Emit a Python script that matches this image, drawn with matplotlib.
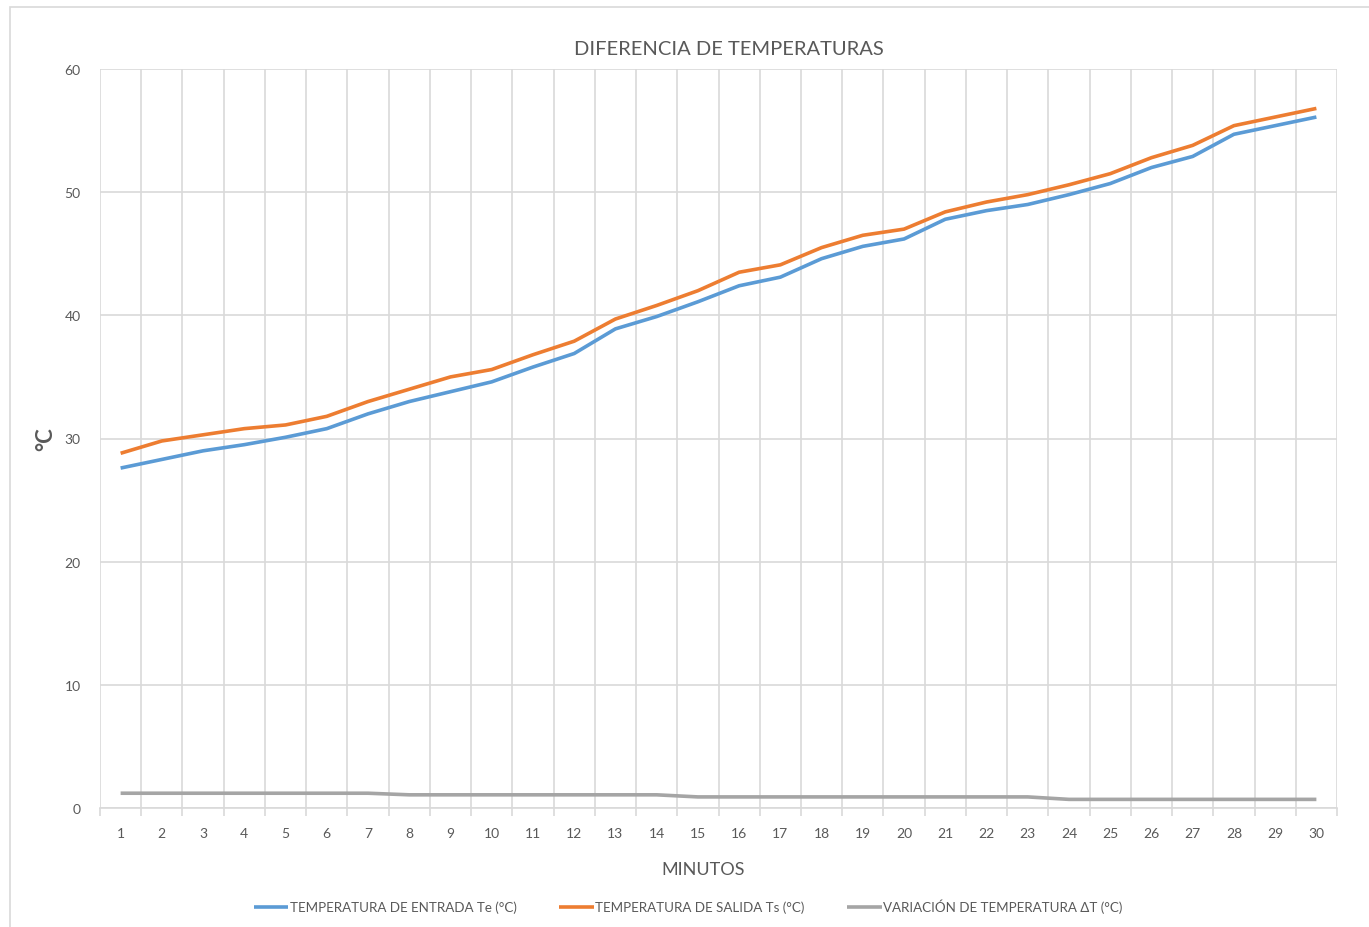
import numpy as np
import matplotlib
matplotlib.use("Agg")
import matplotlib.pyplot as plt
from matplotlib.patches import Rectangle

plt.rcParams['font.family'] = ['Lato', 'DejaVu Sans']

# datos
minutos = list(range(1, 31))
t_entrada = [27.6, 28.3, 29.0, 29.5, 30.1, 30.8, 32.0, 33.0, 33.8, 34.6,
             35.8, 36.9, 38.9, 39.9, 41.1, 42.4, 43.1, 44.6, 45.6, 46.2,
             47.8, 48.5, 49.0, 49.8, 50.7, 52.0, 52.9, 54.7, 55.4, 56.1]
t_salida = [28.8, 29.8, 30.3, 30.8, 31.1, 31.8, 33.0, 34.0, 35.0, 35.6,
            36.8, 37.9, 39.7, 40.8, 42.0, 43.5, 44.1, 45.5, 46.5, 47.0,
            48.4, 49.2, 49.8, 50.6, 51.5, 52.8, 53.8, 55.4, 56.1, 56.8]
delta_t = [1.2, 1.2, 1.2, 1.2, 1.2, 1.2, 1.2, 1.07, 1.07, 1.07,
           1.07, 1.07, 1.07, 1.07, 0.9, 0.9, 0.9, 0.9, 0.9, 0.9,
           0.9, 0.9, 0.9, 0.7, 0.7, 0.7, 0.7, 0.7, 0.7, 0.7]
etiquetas = ["TEMPERATURA DE ENTRADA Te (°C)", "TEMPERATURA DE SALIDA Ts (°C)",
             "VARIACIÓN DE TEMPERATURA ΔT (°C)"]
colores = ["#5B9BD5", "#ED7D31", "#A5A5A5"]

W, H = 1369, 928
fig = plt.figure(figsize=(W / 100, H / 100), dpi=100)
fig.patch.set_facecolor("white")
# borde del grafico
fig.patches.append(Rectangle((10 / W, -0.01), 1.02, 1 - 8 / H + 0.01, transform=fig.transFigure,
                             fill=False, edgecolor="#D9D9D9", lw=1.2, zorder=0))

ax = fig.add_axes([100 / W, 1 - 809 / H, (1337 - 100) / W, (809 - 70) / H])
ax.set_xlim(0.5, 30.5)
ax.set_ylim(0, 60)

for y, c in zip([t_entrada, t_salida, delta_t], colores):
    ax.plot(minutos, y, color=c, lw=2.6, solid_capstyle="butt")

ax.set_yticks(range(0, 61, 10))
ax.set_xticks(minutos)
ax.set_xticks(np.arange(0.5, 31, 1), minor=True)
ax.grid(True, which="major", axis="y", color="#D9D9D9", lw=1.2)
ax.grid(True, which="minor", axis="x", color="#D9D9D9", lw=1.2)
ax.set_axisbelow(True)
ax.tick_params(axis="x", which="major", length=0, labelsize=10, labelcolor="#595959", pad=14)
ax.tick_params(axis="x", which="minor", length=6, color="#D9D9D9", width=1.2)
ax.tick_params(axis="y", length=0, labelsize=10, labelcolor="#595959", pad=14)
for s in ["top", "right", "left"]:
    ax.spines[s].set_visible(False)
ax.spines["bottom"].set_color("#D9D9D9")
ax.spines["bottom"].set_linewidth(1.2)

ax.set_title("DIFERENCIA DE TEMPERATURAS", fontsize=14.5, color="#595959", pad=11, x=0.508)
ax.set_xlabel("MINUTOS", fontsize=13, color="#595959")
ax.xaxis.set_label_coords(0.4875, -0.072)
ax.set_ylabel("°C", fontsize=16, color="#595959", fontweight="bold", labelpad=6)

fig.legend(etiquetas, loc="center", bbox_to_anchor=(688 / W, 1 - 907 / H), ncol=3,
           frameon=False, fontsize=9.6, labelcolor="#595959", handlelength=2.6,
           handletextpad=0.1, columnspacing=3.2)

fig.savefig("out.png", dpi=100)
